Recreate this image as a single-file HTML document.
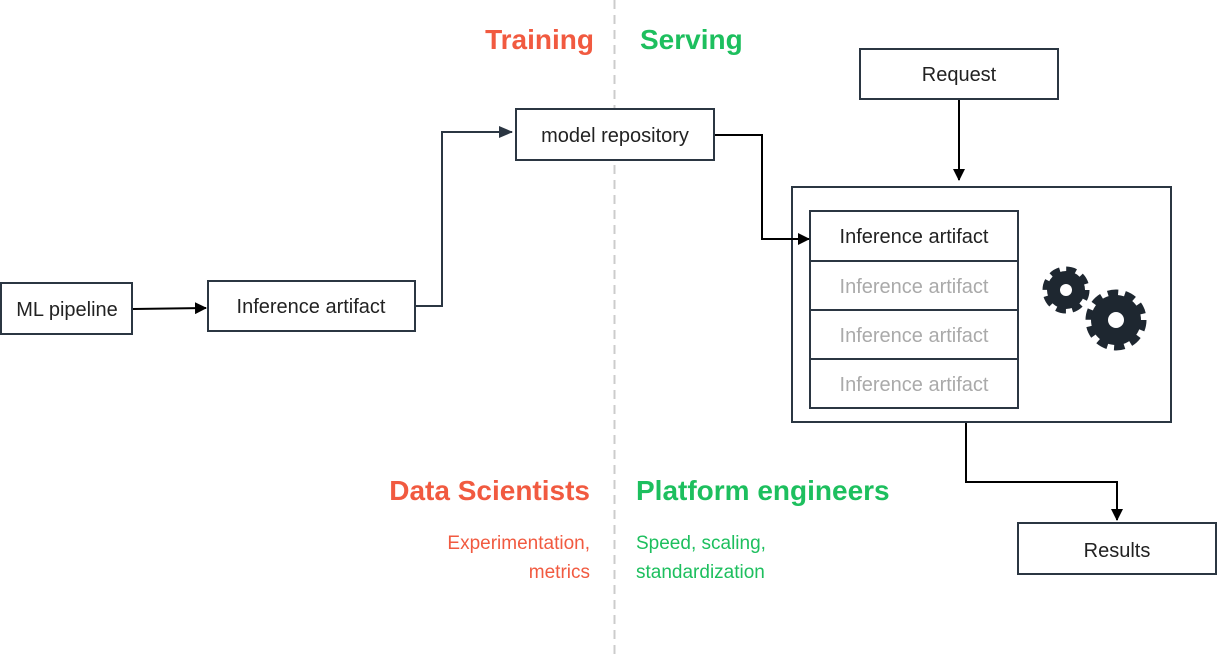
<!DOCTYPE html>
<html><head><style>
body{margin:0;background:#fff}
svg{display:block}
text{font-family:"Liberation Sans",sans-serif}
</style></head><body>
<svg width="1218" height="658" viewBox="0 0 1218 658" xmlns="http://www.w3.org/2000/svg">
<defs>
<marker id="a" markerWidth="12" markerHeight="12" refX="11" refY="6" orient="auto" markerUnits="userSpaceOnUse"><path d="M0,0 L12,6 L0,12 z" fill="#000"/></marker>
<marker id="b" markerWidth="14" markerHeight="12" refX="13" refY="6" orient="auto" markerUnits="userSpaceOnUse"><path d="M0,0 L14,6 L0,12 z" fill="#2b3642"/></marker>
</defs>
<line x1="614.5" y1="0" x2="614.5" y2="658" stroke="#ccc" stroke-width="2" stroke-dasharray="9,6"/>
<g font-weight="bold" font-size="28">
<text x="594" y="49" text-anchor="end" fill="#f15a40">Training</text>
<text x="640" y="49" fill="#1dbf5e">Serving</text>
<text x="590" y="500" text-anchor="end" fill="#f15a40">Data Scientists</text>
<text x="636" y="500" fill="#1dbf5e">Platform engineers</text>
</g>
<g font-size="19">
<text x="590" y="549" text-anchor="end" fill="#f15a40">Experimentation,</text>
<text x="590" y="578" text-anchor="end" fill="#f15a40">metrics</text>
<text x="636" y="549" fill="#1dbf5e">Speed, scaling,</text>
<text x="636" y="578" fill="#1dbf5e">standardization</text>
</g>
<g fill="#fff" stroke="#2b3642" stroke-width="2">
<rect x="1" y="283" width="131" height="51"/>
<rect x="208" y="281" width="207" height="50"/>
<rect x="516" y="109" width="198" height="51"/>
<rect x="860" y="49" width="198" height="50"/>
<rect x="792" y="187" width="379" height="235"/>
<rect x="810" y="211" width="208" height="50"/>
<rect x="810" y="261" width="208" height="49"/>
<rect x="810" y="310" width="208" height="49"/>
<rect x="810" y="359" width="208" height="49"/>
<rect x="1018" y="523" width="198" height="51"/>
</g>
<g font-size="20" fill="#222" text-anchor="middle">
<text x="67" y="316">ML pipeline</text>
<text x="311" y="313">Inference artifact</text>
<text x="615" y="142">model repository</text>
<text x="959" y="81">Request</text>
<text x="914" y="243">Inference artifact</text>
<text x="914" y="293" fill="#aaa">Inference artifact</text>
<text x="914" y="342" fill="#aaa">Inference artifact</text>
<text x="914" y="391" fill="#aaa">Inference artifact</text>
<text x="1117" y="557">Results</text>
</g>
<g fill="none" stroke-width="2">
<path d="M133 309 L206 308" stroke="#000" marker-end="url(#a)"/>
<path d="M416 306 L442 306 L442 132 L512 132" stroke="#2b3642" marker-end="url(#b)"/>
<path d="M715 135 L762 135 L762 239 L809 239" stroke="#000" marker-end="url(#a)"/>
<path d="M959 100 L959 180" stroke="#000" marker-end="url(#a)"/>
<path d="M966 423 L966 482 L1117 482 L1117 520" stroke="#000" marker-end="url(#a)"/>
</g>
<g fill="#1e2730">
<circle cx="1066" cy="290" r="19"/>
<circle cx="1066" cy="290" r="21" fill="none" stroke="#1e2730" stroke-width="5" stroke-dasharray="10,6.5"/>
<circle cx="1116" cy="320" r="25"/>
<circle cx="1116" cy="320" r="27.5" fill="none" stroke="#1e2730" stroke-width="6" stroke-dasharray="10.5,6.8"/>
</g>
<circle cx="1066" cy="290" r="6" fill="#fff"/>
<circle cx="1116" cy="320" r="8" fill="#fff"/>
</svg>
</body></html>
